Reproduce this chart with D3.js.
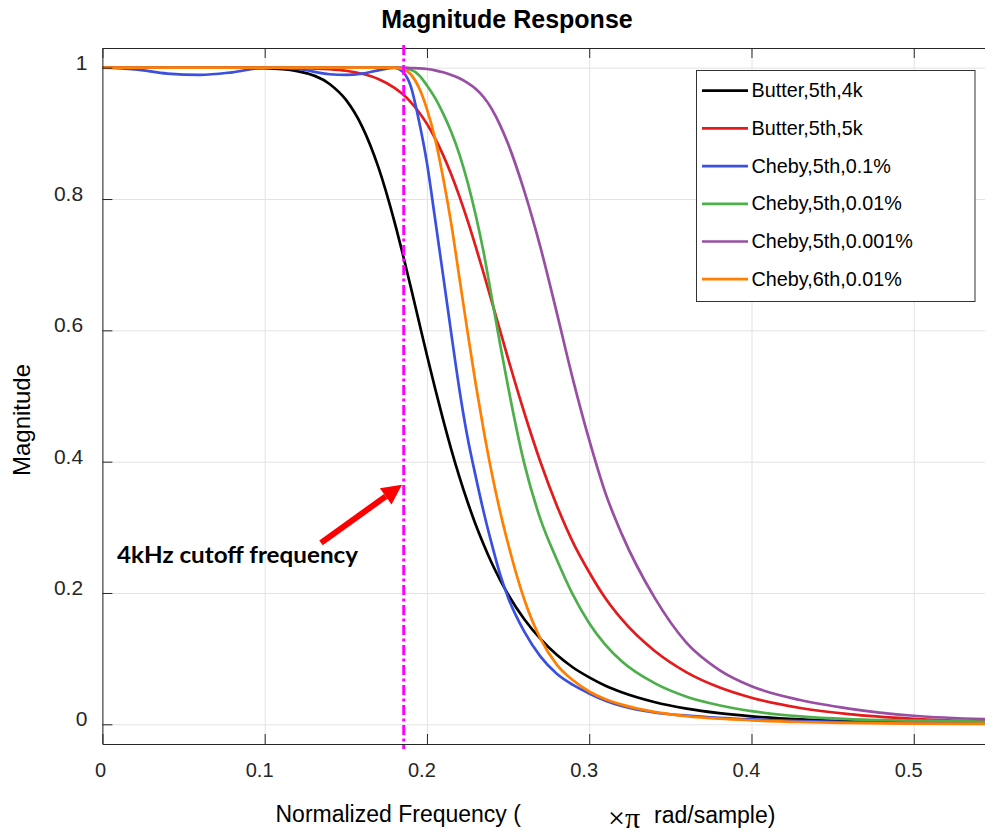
<!DOCTYPE html>
<html lang="en">
    <head>
        <meta charset="utf-8">
        <title>Magnitude Response</title>
        <script type="text/javascript" src="https://cdn.jsdelivr.net/npm/d3@7/dist/d3.min.js"></script>
        <style type="text/css">
           body { margin: 0; background: #fff; }
           text {
               font-family: "Liberation Sans", Arial, sans-serif;
               fill: #262626;
           }
        </style>
    </head>
    <body>
        <script type="text/javascript">

              var w = 985;
              var h = 835;

              // normalized frequency (x pi rad/sample)
              var freq = [0, 0.02, 0.04, 0.06, 0.08, 0.1, 0.12, 0.14, 0.15, 0.16, 0.17, 0.18, 0.185, 0.19, 0.195,
                          0.2, 0.205, 0.21, 0.215, 0.22, 0.225, 0.23, 0.235, 0.24, 0.245, 0.25, 0.26, 0.27, 0.28,
                          0.29, 0.3, 0.31, 0.32, 0.34, 0.36, 0.38, 0.4, 0.43, 0.46, 0.5, 0.55];

              var butter4k = [1, 1, 1, 1, 1, 0.9992, 0.9948, 0.9752, 0.9513, 0.9107, 0.8489, 0.7653, 0.7171, 0.6662, 0.6140,
                              0.5621, 0.5118, 0.4636, 0.4185, 0.3769, 0.3389, 0.3043, 0.2734, 0.2452, 0.2204, 0.1979, 0.1601, 0.1300, 0.1058,
                              0.0865, 0.0715, 0.0588, 0.0488, 0.0340, 0.0239, 0.0170, 0.0122, 0.0075, 0.0046, 0.0025, 0.0011];

              var butter5k = [1, 1, 1, 1, 1, 1, 0.9995, 0.9977, 0.9953, 0.9908, 0.9829, 0.9694, 0.9598, 0.9476, 0.9326,
                              0.9144, 0.8924, 0.8669, 0.8372, 0.8040, 0.7674, 0.7279, 0.6864, 0.6434, 0.6002, 0.5570, 0.4745, 0.3992, 0.3334,
                              0.2772, 0.2316, 0.1919, 0.1600, 0.1123, 0.0791, 0.0563, 0.0404, 0.0248, 0.0154, 0.0082, 0.0037];

              var cheby5r1 = [1, 0.9975, 0.991, 0.989, 0.993, 1, 0.998, 0.990, 0.989, 0.991, 0.996, 1, 0.994, 0.972, 0.920,
                              0.855, 0.770, 0.683, 0.595, 0.510, 0.437, 0.378, 0.323, 0.274, 0.229, 0.193, 0.141, 0.103, 0.077,
                              0.060, 0.047, 0.036, 0.028, 0.018, 0.0132, 0.0098, 0.0074, 0.0048, 0.0032, 0.0018, 0.0008];

              var cheby5r01 = [1, 1, 1, 1, 1, 1, 1, 1, 1, 1, 1, 1, 0.999, 0.997, 0.989,
                               0.973, 0.954, 0.930, 0.902, 0.868, 0.826, 0.776, 0.718, 0.649, 0.580, 0.514, 0.397, 0.312, 0.251,
                               0.197, 0.154, 0.121, 0.096, 0.063, 0.042, 0.029, 0.020, 0.012, 0.0078, 0.0055, 0.0038];

              var cheby5r001 = [1, 1, 1, 1, 1, 1, 1, 1, 1, 1, 1, 1, 1, 0.9995, 0.999,
                                0.998, 0.996, 0.993, 0.989, 0.984, 0.977, 0.968, 0.955, 0.937, 0.913, 0.884, 0.812, 0.726, 0.627,
                                0.525, 0.433, 0.352, 0.290, 0.194, 0.124, 0.083, 0.058, 0.037, 0.024, 0.013, 0.0075];

              var cheby6r01 = [1, 1, 1, 1, 1, 1, 1, 1, 1, 1, 1, 1, 0.998, 0.990, 0.970,
                               0.937, 0.892, 0.832, 0.762, 0.680, 0.598, 0.519, 0.447, 0.382, 0.325, 0.275, 0.190, 0.130, 0.091,
                               0.067, 0.050, 0.038, 0.030, 0.019, 0.0125, 0.0085, 0.006, 0.0035, 0.002, 0.001, 0.0005];

              var names = ["Butter,5th,4k", "Butter,5th,5k", "Cheby,5th,0.1%", "Cheby,5th,0.01%", "Cheby,5th,0.001%", "Cheby,6th,0.01%"];
              var series = [butter4k, butter5k, cheby5r1, cheby5r01, cheby5r001, cheby6r01];
              var colors = ["#000000", "#e41a1c", "#3a50e0", "#4daf4a", "#984ea3", "#ff7f00"];

              var xTicks = [0, 0.1, 0.2, 0.3, 0.4, 0.5];
              var yTicks = [0, 0.2, 0.4, 0.6, 0.8, 1];

              var cutoff = 0.1857;

              var x = d3.scaleLinear().domain([0, 0.55]).range([102.4, 994.9]);
              var y = d3.scaleLinear().domain([-0.03, 1.03]).range([744, 48]);

              var svg = d3.select("body")
                          .append("svg")
                          .attr("width", w)
                          .attr("height", h);

              // grid
              svg.append("g")
                 .attr("transform", "translate(0," + y(-0.03) + ")")
                 .call(d3.axisBottom(x).tickValues(xTicks).tickSize(-(y(-0.03) - y(1.03))).tickFormat(""))
                 .call(function(g) { g.select(".domain").remove(); })
                 .selectAll("line").attr("stroke", "#e3e3e3").attr("class", "grid");

              svg.append("g")
                 .attr("transform", "translate(" + x(0) + ",0)")
                 .call(d3.axisLeft(y).tickValues(yTicks).tickSize(-(x(0.55) - x(0))).tickFormat(""))
                 .call(function(g) { g.select(".domain").remove(); })
                 .selectAll("line").attr("stroke", "#e3e3e3").attr("class", "grid");

              // curves
              var line = d3.line()
                           .x(function(d, i) { return x(freq[i]); })
                           .y(function(d) { return y(d); })
                           .curve(d3.curveMonotoneX);

              svg.selectAll("path.curve")
                 .data(series)
                 .enter()
                 .append("path")
                 .attr("class", "curve")
                 .attr("fill", "none")
                 .attr("stroke", function(d, i) { return colors[i]; })
                 .attr("stroke-width", 2.7)
                 .attr("d", line);

              // axes
              var bottom = svg.append("g")
                 .attr("transform", "translate(0," + y(-0.03) + ")")
                 .call(d3.axisBottom(x).tickValues(xTicks).tickSize(-10).tickSizeOuter(0).tickFormat(d3.format("~g")));
              bottom.selectAll("text")
                    .attr("y", 33)
                    .attr("dy", 0)
                    .style("font-size", "20px")
                    .attr("x", function() { return -0.2 * this.getComputedTextLength(); });

              svg.append("g")
                 .attr("transform", "translate(0," + y(1.03) + ")")
                 .call(d3.axisTop(x).tickValues(xTicks).tickSize(-10).tickSizeOuter(0).tickFormat(""));

              var left = svg.append("g")
                 .attr("transform", "translate(" + x(0) + ",0)")
                 .call(d3.axisLeft(y).tickValues(yTicks).tickSize(-10).tickSizeOuter(0).tickFormat(d3.format("~g")));
              left.selectAll("text")
                  .attr("y", 1.5)
                  .attr("dy", 0)
                  .style("font-size", "21px")
                  .attr("x", function() { return -12 - 0.25 * this.getComputedTextLength(); });

              svg.selectAll(".domain").attr("stroke", "#262626");
              svg.selectAll(".tick line:not(.grid)").attr("stroke", "#262626");

              // cutoff marker
              svg.append("line")
                 .attr("x1", x(cutoff)).attr("x2", x(cutoff))
                 .attr("y1", y(1.03) - 3).attr("y2", y(-0.03) + 5)
                 .attr("stroke", "#ff00ff")
                 .attr("stroke-width", 3)
                 .attr("stroke-dasharray", "10,3.5,3,3.5");

              // arrow
              var tail = [x(0.1347), y(0.2764)];
              var tip = [x(0.1846), y(0.3648)];
              var ang = Math.atan2(tip[1] - tail[1], tip[0] - tail[0]);
              var headLen = 20, headW = 10;
              var base = [tip[0] - headLen * Math.cos(ang), tip[1] - headLen * Math.sin(ang)];
              svg.append("line")
                 .attr("x1", tail[0]).attr("y1", tail[1])
                 .attr("x2", base[0]).attr("y2", base[1])
                 .attr("stroke", "#ff0000")
                 .attr("stroke-width", 6);
              svg.append("polygon")
                 .attr("fill", "#ff0000")
                 .attr("points", [tip,
                                  [base[0] + headW * Math.sin(ang), base[1] - headW * Math.cos(ang)],
                                  [base[0] - headW * Math.sin(ang), base[1] + headW * Math.cos(ang)]]
                                  .map(function(p) { return p.join(","); }).join(" "));

              svg.append("text")
                 .attr("x", x(0.009))
                 .attr("y", y(0.246))
                 .attr("textLength", 241)
                 .attr("lengthAdjust", "spacingAndGlyphs")
                 .style("font-family", "Lato, 'Open Sans', sans-serif")
                 .style("font-weight", "bold")
                 .style("font-size", "23px")
                 .style("fill", "#000")
                 .text("4kHz cutoff frequency");

              // legend
              var legend = svg.append("g");
              legend.append("rect")
                    .attr("x", 696.5).attr("y", 70.5)
                    .attr("width", 278.5).attr("height", 231)
                    .attr("fill", "#fff")
                    .attr("stroke", "#333")
                    .attr("stroke-width", 1);
              var items = legend.selectAll("g.item")
                    .data(names)
                    .enter()
                    .append("g")
                    .attr("class", "item")
                    .attr("transform", function(d, i) { return "translate(0," + (90.7 + i * 37.7) + ")"; });
              items.append("line")
                   .attr("x1", 702).attr("x2", 748)
                   .attr("stroke", function(d, i) { return colors[i]; })
                   .attr("stroke-width", 2.7);
              items.append("text")
                   .attr("x", 751.5)
                   .attr("y", 6.5)
                   .style("font-size", "19.8px")
                   .style("fill", "#000")
                   .text(function(d) { return d; });

              // titles
              svg.append("text")
                 .attr("x", 507)
                 .attr("y", 28)
                 .attr("text-anchor", "middle")
                 .style("font-size", "25px")
                 .style("font-weight", "bold")
                 .style("fill", "#000")
                 .text("Magnitude Response");

              svg.append("text")
                 .attr("transform", "translate(30,420) rotate(-90)")
                 .attr("text-anchor", "middle")
                 .style("font-size", "24px")
                 .style("fill", "#000")
                 .text("Magnitude");

              svg.append("text")
                 .attr("x", 275.5)
                 .attr("y", 822)
                 .style("font-size", "23px")
                 .style("fill", "#000")
                 .text("Normalized Frequency (");
              svg.append("text")
                 .attr("x", 608)
                 .attr("y", 828)
                 .style("font-family", "'Liberation Serif', serif")
                 .style("font-size", "30px")
                 .style("fill", "#000")
                 .text("\u00d7\u03c0");
              svg.append("text")
                 .attr("x", 654)
                 .attr("y", 823)
                 .style("font-size", "23px")
                 .style("fill", "#000")
                 .text("rad/sample)");

        </script>
    </body>
</html>
